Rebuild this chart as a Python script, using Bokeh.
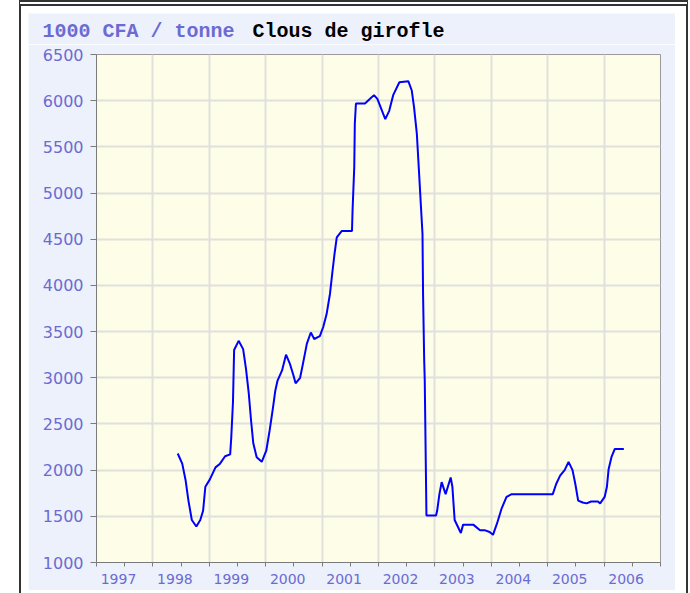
from bokeh.plotting import figure
from bokeh.layouts import column, row
from bokeh.models import FixedTicker, Range1d
from bokeh.core.properties import value
from bokeh.embed import file_html
from bokeh.resources import INLINE

# ---- data (decimal year, 1000 CFA / tonne) ----
dates = [1998.44, 1998.52, 1998.58, 1998.63, 1998.69, 1998.77, 1998.84, 1998.89,
         1998.93, 1999.01, 1999.11, 1999.19, 1999.28, 1999.37, 1999.39, 1999.42,
         1999.44, 1999.52, 1999.60, 1999.65, 1999.70, 1999.74, 1999.78, 1999.84,
         1999.93, 2000.01, 2000.07, 2000.13, 2000.17, 2000.21, 2000.29, 2000.36,
         2000.43, 2000.49, 2000.53, 2000.61, 2000.66, 2000.73, 2000.80, 2000.86,
         2000.96, 2001.02, 2001.08, 2001.14, 2001.18, 2001.22, 2001.26, 2001.35,
         2001.53, 2001.54, 2001.57, 2001.58, 2001.60, 2001.76, 2001.85, 2001.92,
         2001.98, 2002.12, 2002.19, 2002.26, 2002.37, 2002.53, 2002.59, 2002.63,
         2002.68, 2002.72, 2002.75, 2002.78, 2002.79, 2002.81, 2002.82, 2002.84,
         2002.85, 2003.02, 2003.04, 2003.08, 2003.12, 2003.19, 2003.28, 2003.31,
         2003.35, 2003.46, 2003.50, 2003.68, 2003.80, 2003.88, 2003.97, 2004.03,
         2004.10, 2004.18, 2004.27, 2004.36, 2005.09, 2005.15, 2005.22, 2005.30,
         2005.37, 2005.44, 2005.49, 2005.54, 2005.62, 2005.69, 2005.77, 2005.89,
         2005.93, 2006.01, 2006.05, 2006.08, 2006.13, 2006.19, 2006.35]
prices = [2180, 2070, 1890, 1670, 1460, 1390, 1460, 1560,
          1820, 1900, 2030, 2070, 2150, 2170, 2360, 2740,
          3300, 3400, 3310, 3100, 2830, 2540, 2290, 2140,
          2090, 2210, 2430, 2680, 2860, 2970, 3080, 3250,
          3150, 3030, 2940, 3000, 3150, 3370, 3490, 3420,
          3450, 3550, 3690, 3910, 4130, 4340, 4520, 4590,
          4590, 4810, 5280, 5750, 5970, 5970, 6020, 6060,
          6020, 5800, 5890, 6060, 6200, 6210, 6110, 5930,
          5640, 5210, 4880, 4560, 3910, 3190, 2970, 2000,
          1510, 1510, 1560, 1740, 1870, 1740, 1920, 1820,
          1460, 1320, 1410, 1410, 1350, 1350, 1330, 1300,
          1420, 1580, 1710, 1740, 1740, 1850, 1940, 2000,
          2090, 2000, 1850, 1670, 1650, 1640, 1660, 1660,
          1640, 1710, 1820, 2010, 2140, 2230, 2230]

year_ticks = list(range(1997, 2008))
year_labels = ["1997", "1998", "1999", "2000", "2001", "2002",
               "2003", "2004", "2005", "2006"]
value_ticks = list(range(1000, 7000, 500))
unit_text = "1000 CFA / tonne"
title_text = "Clous de girofle"

LAB = "#6b6bd2"
BG = "#edf1fb"
W = 647

# ---- header band (title) ----
head = figure(width=W, height=31, output_backend="svg", toolbar_location=None,
              x_range=Range1d(0, W), y_range=Range1d(31, 0),
              min_border=0, x_axis_type=None, y_axis_type=None)
head.background_fill_color = BG
head.border_fill_color = BG
head.outline_line_color = None
head.grid.visible = False
head.text(x=[14], y=[18], text=[unit_text], text_font=value("Liberation Mono"),
          text_font_size="20px", text_font_style="bold", text_color=LAB,
          text_baseline="middle", text_align="left")
head.text(x=[224], y=[18], text=[title_text], text_font=value("Liberation Mono"),
          text_font_size="20px", text_font_style="bold", text_color="#000000",
          text_baseline="middle", text_align="left")

# ---- main chart ----
p = figure(width=W, height=546, output_backend="svg", toolbar_location=None,
           x_range=Range1d(1997, 2007), y_range=Range1d(1000, 6500),
           min_border_left=68, min_border_right=15,
           min_border_top=10, min_border_bottom=28)
p.border_fill_color = BG
p.background_fill_color = "#fdfde8"
p.outline_line_color = "#9a9a9a"

p.line(dates, prices, line_color="#0000ff", line_width=2)

# x axis: labels sit inside each year, tick marks on year boundaries
p.xaxis.ticker = FixedTicker(
    ticks=[y + 0.39 for y in year_ticks[:-1]],
    minor_ticks=[y + h for y in year_ticks for h in (0, 0.5)][:-1])
p.xaxis.major_label_overrides = {y + 0.39: lab
                                 for y, lab in zip(year_ticks, year_labels)}
p.xaxis.major_label_text_font = "DejaVu Sans"
p.xaxis.major_label_text_font_size = "14px"
p.xaxis.major_label_text_color = LAB
p.xaxis.major_label_standoff = 7
p.xaxis.major_tick_line_color = None
p.xaxis.major_tick_out = 0
p.xaxis.major_tick_in = 0
p.xaxis.minor_tick_out = 4
p.xaxis.minor_tick_in = 0
p.xaxis.axis_line_color = "#7a7a7a"
p.xaxis.minor_tick_line_color = "#7a7a7a"
p.xgrid.ticker = FixedTicker(ticks=year_ticks)

# y axis
p.yaxis.ticker = FixedTicker(ticks=value_ticks)
p.yaxis.major_label_text_font = "DejaVu Sans"
p.yaxis.major_label_text_font_size = "16px"
p.yaxis.major_label_text_color = LAB
p.yaxis.major_label_standoff = 7
p.yaxis.major_tick_out = 6
p.yaxis.major_tick_in = 0
p.yaxis.minor_tick_line_color = None
p.yaxis.axis_line_color = "#7a7a7a"
p.yaxis.major_tick_line_color = "#7a7a7a"
p.ygrid.ticker = FixedTicker(ticks=value_ticks)

for g in (p.xgrid, p.ygrid):
    g.grid_line_color = "#e0e0dc"
    g.grid_line_width = 2

layout = column(row(head, spacing=0), p, spacing=0, styles={
    "margin-left": "19px",
    "border-top": "6px double #333333",
    "border-left": "2px solid #333333",
    "border-right": "2px solid #333333",
    "padding": "7px 11px 3px 7px",
    "background-color": "white",
})

open("out.html", "w").write(file_html(layout, INLINE))
